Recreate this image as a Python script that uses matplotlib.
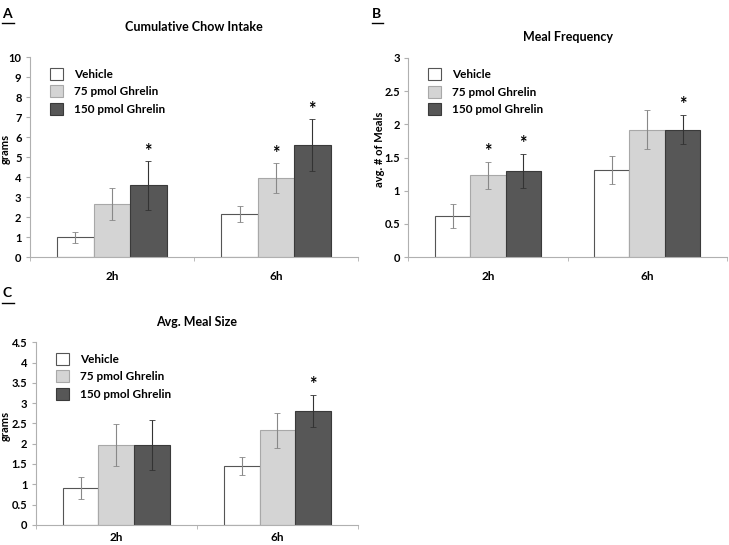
import matplotlib.pyplot as plt
import numpy as np

plt.rcParams['font.family'] = ['Lato', 'DejaVu Sans']
plt.rcParams['font.weight'] = 'bold'

groups = ['2h', '6h']
labels = ['Vehicle', '75 pmol Ghrelin', '150 pmol Ghrelin']

# A - cumulative chow intake (grams)
chow_mean = [[1.0, 2.15], [2.65, 3.95], [3.6, 5.6]]
chow_err = [[0.27, 0.39], [0.8, 0.75], [1.22, 1.3]]
chow_star = [[False, False], [False, True], [True, True]]

# B - meal frequency
freq_mean = [[0.62, 1.31], [1.23, 1.92], [1.3, 1.92]]
freq_err = [[0.18, 0.21], [0.2, 0.29], [0.26, 0.22]]
freq_star = [[False, False], [True, False], [True, True]]

# C - meal size (grams)
size_mean = [[0.9, 1.45], [1.97, 2.33], [1.97, 2.8]]
size_err = [[0.27, 0.22], [0.52, 0.43], [0.61, 0.4]]
size_star = [[False, False], [False, False], [False, True]]

face = ['white', '#d4d4d4', '#575757']
edge = ['#555555', '#a8a8a8', '#3a3a3a']
ecol = ['#888888', '#888888', '#333333']
axis_col = '#b0b0b0'


def panel(ax, means, errs, stars, title, ylabel, ymax, ystep, star_pad, tpad, ylx, xpad=10):
    x = np.arange(len(groups))
    w = 0.222
    handles = []
    for i in range(3):
        pos = x + (i - 1) * w
        b = ax.bar(pos, means[i], w, color=face[i], edgecolor=edge[i], linewidth=0.8,
                   yerr=errs[i], error_kw=dict(ecolor=ecol[i], elinewidth=0.8, capsize=2, capthick=0.6))
        handles.append(b)
        for j in range(len(groups)):
            if stars[i][j]:
                ax.text(pos[j], means[i][j] + errs[i][j] + star_pad, '*', ha='center', va='bottom',
                        fontsize=13, fontweight='bold')
    ax.set_xlim(-0.5, 1.5)
    ax.set_ylim(0, ymax)
    ticks = np.arange(0, ymax + ystep / 2, ystep)
    ax.set_yticks(ticks)
    ax.set_yticklabels(['%g' % t for t in ticks], fontsize=8, fontweight='bold')
    ax.set_xticks(x)
    ax.set_xticklabels(groups, fontsize=8.5, fontweight='bold')
    ax.set_xticks([-0.5, 0.5, 1.5], minor=True)
    ax.tick_params(axis='x', which='major', length=0, pad=xpad)
    ax.tick_params(axis='x', which='minor', length=3, color=axis_col)
    ax.tick_params(axis='y', length=3, color=axis_col, pad=3)
    for s in ['top', 'right']:
        ax.spines[s].set_visible(False)
    ax.spines['left'].set_color(axis_col)
    ax.spines['bottom'].set_color(axis_col)
    ax.set_title(title, fontsize=9, fontweight='bold', pad=tpad)
    ax.set_ylabel(ylabel, fontsize=8, fontweight='bold')
    ax.yaxis.set_label_coords(ylx, 0.54)
    ax.legend(handles, labels, loc='upper left', bbox_to_anchor=(0.03, 1.0), frameon=False,
              handlelength=1.1, handleheight=1.2, labelspacing=0.45, handletextpad=0.9,
              prop=dict(weight='bold', size=8.5))


fig = plt.figure(figsize=(7.29, 5.45), dpi=100)
axA = fig.add_axes([0.041, 0.528, 0.450, 0.367])
axB = fig.add_axes([0.560, 0.528, 0.437, 0.366])
axC = fig.add_axes([0.049, 0.037, 0.442, 0.335])

panel(axA, chow_mean, chow_err, chow_star, 'Cumulative Chow Intake', 'grams', 10, 1, 0.05, 19, -0.057)
panel(axB, freq_mean, freq_err, freq_star, 'Meal Frequency', 'avg. # of Meals', 3, 0.5, 0.03, 12, -0.074)
panel(axC, size_mean, size_err, size_star, 'Avg. Meal Size', 'grams', 4.5, 0.5, 0.05, 12, -0.076, xpad=5)

for lab, xx, yy in [('A', 0.003, 0.975), ('B', 0.510, 0.975), ('C', 0.003, 0.462)]:
    fig.text(xx, yy, lab, fontsize=10, fontweight='bold', ha='left', va='center')
    fig.add_artist(plt.Line2D([xx, xx + 0.016], [yy - 0.018, yy - 0.018], color='black', linewidth=1))

fig.savefig('out.png', dpi=100)
